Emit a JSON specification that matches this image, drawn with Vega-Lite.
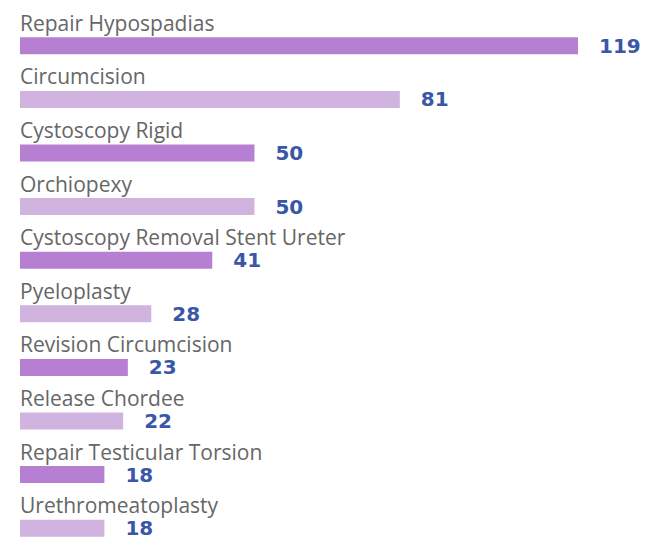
{
  "$schema": "https://vega.github.io/schema/vega-lite/v6.json",
  "width": 626,
  "height": 536,
  "autosize": {"type": "none"},
  "padding": {"left": 20, "top": 19, "right": 0, "bottom": 0},
  "background": "white",
  "config": {"view": {"stroke": null}},
  "data": {
    "values": [
      {"procedure": "Repair Hypospadias", "count": 119},
      {"procedure": "Circumcision", "count": 81},
      {"procedure": "Cystoscopy Rigid", "count": 50},
      {"procedure": "Orchiopexy", "count": 50},
      {"procedure": "Cystoscopy Removal Stent Ureter", "count": 41},
      {"procedure": "Pyeloplasty", "count": 28},
      {"procedure": "Revision Circumcision", "count": 23},
      {"procedure": "Release Chordee", "count": 22},
      {"procedure": "Repair Testicular Torsion", "count": 18},
      {"procedure": "Urethromeatoplasty", "count": 18}
    ]
  },
  "encoding": {
    "y": {
      "field": "procedure",
      "type": "nominal",
      "sort": null,
      "axis": null,
      "scale": {"paddingInner": 0, "paddingOuter": 0}
    }
  },
  "layer": [
    {
      "mark": {"type": "bar", "height": 17, "cornerRadius": 0},
      "encoding": {
        "x": {
          "field": "count",
          "type": "quantitative",
          "axis": null,
          "scale": {"domain": [0, 133.5], "nice": false}
        },
        "color": {
          "field": "procedure",
          "type": "nominal",
          "legend": null,
          "scale": {
            "domain": ["Repair Hypospadias", "Circumcision", "Cystoscopy Rigid", "Orchiopexy", "Cystoscopy Removal Stent Ureter", "Pyeloplasty", "Revision Circumcision", "Release Chordee", "Repair Testicular Torsion", "Urethromeatoplasty"],
            "range": ["#b77fd1", "#d1b3e0", "#b77fd1", "#d1b3e0", "#b77fd1", "#d1b3e0", "#b77fd1", "#d1b3e0", "#b77fd1", "#d1b3e0"]
          }
        }
      }
    },
    {
      "mark": {
        "type": "text",
        "align": "left",
        "baseline": "alphabetic",
        "dy": -15,
        "font": "Open Sans",
        "fontSize": 21,
        "color": "#666666"
      },
      "encoding": {
        "x": {"datum": 0, "type": "quantitative"},
        "text": {"field": "procedure"}
      }
    },
    {
      "mark": {
        "type": "text",
        "align": "left",
        "baseline": "middle",
        "dx": 21,
        "dy": 1,
        "font": "DejaVu Sans",
        "fontWeight": "bold",
        "fontSize": 20,
        "color": "#3a57a7"
      },
      "encoding": {
        "x": {"field": "count", "type": "quantitative"},
        "text": {"field": "count"}
      }
    }
  ]
}
